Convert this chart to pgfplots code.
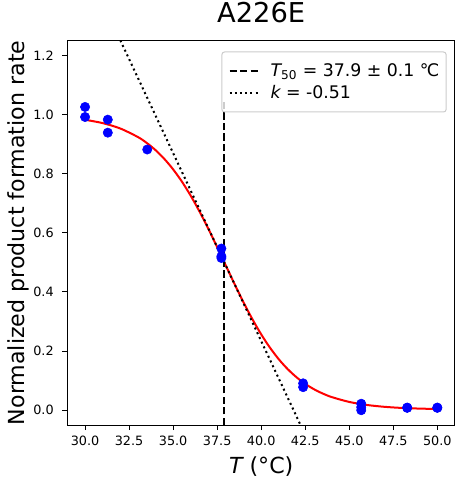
\documentclass[border=0pt]{standalone}
\usepackage{fontspec}
\setmainfont{DejaVu Sans}
\usepackage{pgfplots}
\pgfplotsset{compat=1.18}
\definecolor{mplblue}{rgb}{0,0,1}
\definecolor{mplred}{rgb}{1,0,0}
\begin{document}
\begin{tikzpicture}
\begin{axis}[
  scale only axis, width=290.6pt, height=288.2pt,
  at={(0,0)}, anchor=south west,
  xmin=29, xmax=51, ymin=-0.05, ymax=1.25,
  xtick={30,32.5,35,37.5,40,42.5,45,47.5,50},
  ytick={0,0.2,0.4,0.6,0.8,1.0,1.2},
  tick pos=left, tick align=outside, major tick length=3.75pt,
  tick style={line width=0.75pt, black},
  axis line style={line width=0.75pt},
  /pgf/number format/assume math mode=true,
  /pgf/number format/.cd, fixed, fixed zerofill, precision=1, /pgfplots/.cd,
  ticklabel style={font=\fontsize{9.6}{11.5}\selectfont},
  yticklabel style={inner sep=0pt, anchor=east, xshift=-6.4pt},
  xticklabel style={inner sep=0pt, anchor=north, yshift=-4.5pt},
  title={A226E},
  title style={font=\fontsize{20.5}{24}\selectfont, at={(axis description cs:0.5,1.026)}, anchor=base},
  xlabel={{\itshape T} (°C)},
  ylabel={Normalized product formation rate},
  label style={font=\fontsize{16.6}{20}\selectfont},
  xlabel style={at={(axis description cs:0.5,-0.1257)}, anchor=base},
  ylabel style={at={(axis description cs:-0.1098,0.5)}, anchor=base},
  legend style={at={(0.9786,0.972)}, anchor=north east, draw=black!20, line width=0.75pt,
    rounded corners=2pt, fill=white, fill opacity=0.8, text opacity=1,
    font=\fontsize{13}{15.6}\selectfont, inner xsep=5pt, inner ysep=7.3pt,
    row sep=3.4pt, column sep=7pt,
    nodes={inner sep=0pt, text height=11pt, text depth=2.5pt}},
  legend cell align=left,
  legend image code/.code={\draw[#1] (0pt,0pt) -- (23pt,0pt);},
  clip=true,
]
% data points
\addplot[only marks, mark=*, mark size=3.5pt, mark options={draw=mplblue, fill=mplblue}, forget plot]
coordinates {
(30,1.026) (30,0.992)
(31.29,0.983) (31.29,0.939)
(33.53,0.882)
(37.74,0.547) (37.74,0.521) (37.74,0.515)
(42.38,0.091) (42.38,0.078)
(45.68,0.022) (45.68,0.010) (45.68,0.000)
(48.29,0.009) (48.29,0.008)
(50,0.009) (50,0.008)
};
% fitted curve
\addplot[mplred, line width=1.5pt, smooth, forget plot] coordinates {
(30,0.9826) (31,0.9713) (32,0.9531) (33,0.9242) (33.5,0.9043) (34,0.8799)
(34.5,0.8502) (35,0.8148) (35.5,0.7732) (36,0.7255) (36.5,0.6719) (37,0.6136)
(37.5,0.5517) (38,0.4883) (38.5,0.4253) (39,0.3646) (39.5,0.3080) (40,0.2567)
(40.5,0.2114) (41,0.1723) (41.5,0.1393) (42,0.1118) (42.5,0.0892) (43,0.0709)
(43.5,0.0563) (44,0.0446) (45,0.0280) (46,0.0178) (47,0.0115) (48,0.0077)
(49,0.0055) (50,0.0041)
};
% T50 line
\addplot[black, line width=1.5pt, dash pattern=on 5.5pt off 2.4pt] coordinates {(37.9,-0.05) (37.9,1.05)};
\addlegendentry{{\itshape T}\textsubscript{50} = 37.9 ± 0.1 ℃}
% tangent
\addplot[black, line width=1.5pt, dash pattern=on 1.5pt off 2.4pt] coordinates {(31.5,1.315) (42.5,-0.084)};
\addlegendentry{{\itshape k} = -0.51}
\end{axis}
\pgfresetboundingbox
\path[use as bounding box] (-50.6pt,-46.5pt) rectangle (297.4pt,318.75pt);
\end{tikzpicture}
\end{document}
